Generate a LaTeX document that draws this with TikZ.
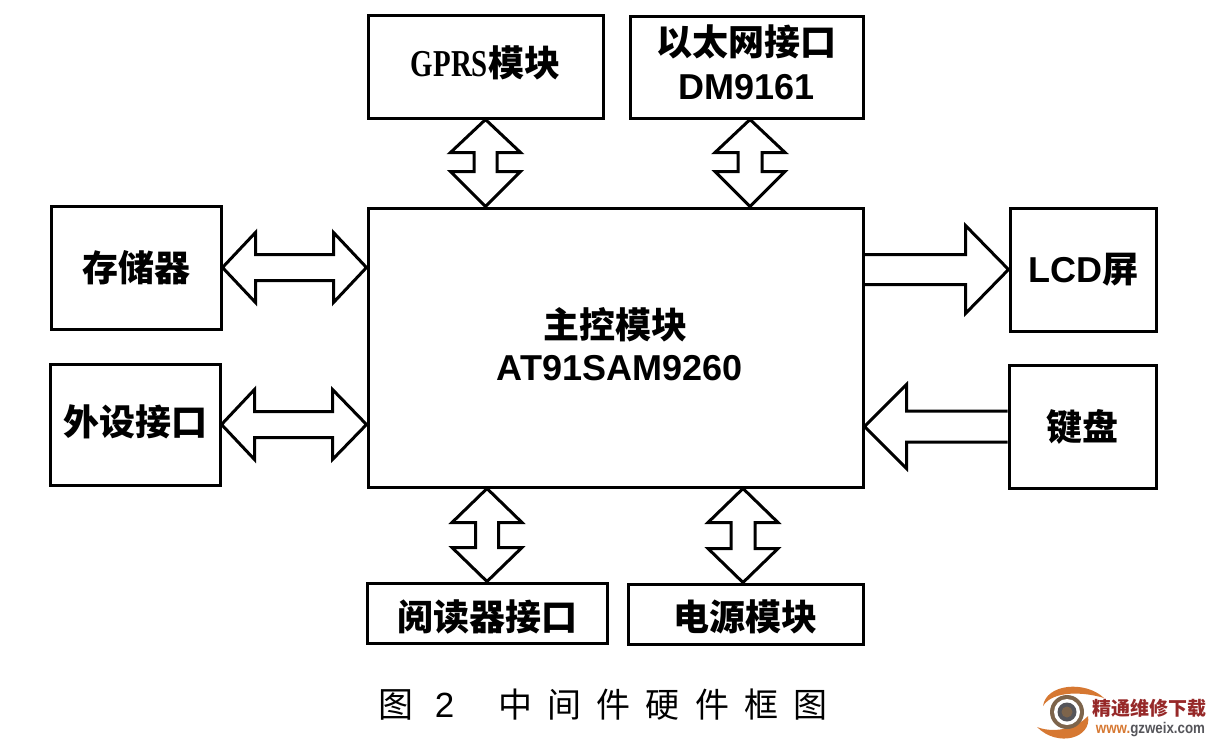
\documentclass[tikz,border=0pt]{standalone}
\usepackage{fontspec}
\usepackage{xcolor}
\usepackage{tikz}
\usetikzlibrary{calc}
\newfontfamily\cjk{Noto Sans CJK SC}
\newfontfamily\latin{Liberation Sans}
\newfontfamily\gprsfont[FakeStretch=0.76]{Liberation Serif}
\definecolor{logoorange}{RGB}{214,120,50}
\definecolor{logored}{RGB}{150,40,40}
\definecolor{logogray}{RGB}{85,85,90}
\definecolor{logobrown}{RGB}{125,100,75}
\newcommand{\nearstart}[2]{($(\tikztostart)!#1!(\tikztotarget)!#2!90:(\tikztotarget)$)}
\newcommand{\nearend}[2]{($(\tikztotarget)!#1!(\tikztostart)!#2!-90:(\tikztostart)$)}
\tikzset{
  modbox/.style={draw,line width=3pt,inner sep=0pt,align=center,font=\fontsize{36}{44}\selectfont\bfseries},
  twoway/.style={line width=3pt,miter limit=4,to path={
    -- \nearstart{\hd}{\hw} -- \nearstart{\hd}{\hs} -- \nearend{\he}{\hs} -- \nearend{\he}{\hw}
    -- (\tikztotarget)
    -- \nearend{\he}{-\hw} -- \nearend{\he}{-\hs} -- \nearstart{\hd}{-\hs} -- \nearstart{\hd}{-\hw}
    -- cycle}},
  oneway/.style={line width=3pt,miter limit=4,to path={
    ($(\tikztostart)!\hs!90:(\tikztotarget)$) -- \nearend{\he}{\hs} -- \nearend{\he}{\hw}
    -- (\tikztotarget)
    -- \nearend{\he}{-\hw} -- \nearend{\he}{-\hs} -- ($(\tikztostart)!\hs!-90:(\tikztotarget)$)}}
}
\begin{document}
\begin{tikzpicture}[x=1pt,y=-1pt]
\useasboundingbox (0,0) rectangle (1215,745);
% Module boxes
\node[modbox,minimum width=495pt,minimum height=279pt] (main) at (615.5,347.5) {\cjk 主控模块\\[-2pt]\hspace*{8pt}\latin AT91SAM9260\rule[-8pt]{0pt}{8pt}};
\node[modbox,minimum width=235pt,minimum height=103pt] (gprs) at (485.5,66.5) {\gprsfont\fontsize{38}{44}\selectfont GPRS\cjk\fontsize{36}{44}\selectfont 模块\rule[-10pt]{0pt}{10pt}};
\node[modbox,minimum width=233pt,minimum height=102pt] (eth) at (746.5,67) {\cjk 以太网接口\\\latin DM9161\rule[-9pt]{0pt}{9pt}};
\node[modbox,minimum width=170pt,minimum height=123pt] (mem) at (136,267.5) {\cjk 存储器};
\node[modbox,minimum width=170pt,minimum height=121pt] (ext) at (135,424.5) {\cjk 外设接口\rule[-8pt]{0pt}{8pt}};
\node[modbox,minimum width=146pt,minimum height=123pt] (lcd) at (1083,269.5) {\latin LCD\cjk 屏};
\node[modbox,minimum width=147pt,minimum height=123pt] (keys) at (1082.5,426.5) {\cjk 键盘};
\node[modbox,minimum width=240pt,minimum height=60pt] (reader) at (487,613) {\cjk\rule{0pt}{38pt}阅读器接口};
\node[modbox,minimum width=235pt,minimum height=60pt] (power) at (745.5,614) {\cjk\rule{0pt}{36pt}电源模块};
% Arrow ends on the box edges
\coordinate (mainmem) at (main.west |- mem.east);
\coordinate (mainext) at (main.west |- ext.east);
\coordinate (mainlcd) at (main.east |- lcd.west);
\coordinate (mainkeys) at (main.east |- keys.west);
\coordinate (maingprs) at (gprs.south |- main.north);
\coordinate (etharrow) at ($(eth.south)+(3.5,0)$);
\coordinate (maineth) at (etharrow |- main.north);
\coordinate (mainreader) at (reader.north |- main.south);
\coordinate (powerarrow) at ($(power.north)+(-2.5,0)$);
\coordinate (mainpower) at (powerarrow |- main.south);
% Two-way buses
\foreach \from/\to/\hd/\he/\hw/\hs in {
    mem.east/mainmem/33pt/33pt/35pt/13pt,
    ext.east/mainext/33pt/34pt/35pt/13pt,
    gprs.south/maingprs/33pt/35pt/35pt/11.5pt,
    etharrow/maineth/33pt/35pt/35pt/12pt,
    mainreader/reader.north/34pt/34pt/35pt/11.5pt,
    mainpower/powerarrow/34pt/34pt/35pt/12pt} {
    \draw[twoway] (\from) to (\to);
}
% One-way buses
\foreach \from/\to/\he/\hw/\hs in {
    mainlcd/lcd.west/43pt/44pt/15pt,
    keys.west/mainkeys/42pt/42pt/15.5pt} {
    \draw[oneway] (\from) to (\to);
}
% Caption
\node[inner sep=0pt] (fignum) at (416.5,705) {\cjk\fontsize{35}{40}\selectfont 图\hspace{21pt}\latin 2};
\node[inner sep=0pt] (figtext) at (663,705) {\cjk\addfontfeatures{LetterSpace=45}\fontsize{34}{40}\selectfont 中间件硬件框图};
% Watermark
\fill[logoorange] (1043,706) .. controls (1046,684) and (1085,680) .. (1104,698)
    .. controls (1085,692) and (1053,690) .. (1043,706);
\fill[logoorange] (1037,727) .. controls (1052,733) and (1075,730) .. (1088,716)
    .. controls (1092,738) and (1058,748) .. (1037,727);
\fill[logobrown] (1067,712) circle (17pt);
\fill[white] (1067,712) circle (13pt);
\fill[logogray] (1067,712) circle (9.5pt);
\fill[logobrown] (1067,712) circle (5.5pt);
\node[inner sep=0pt,text=logored] (wmname) at (1149.5,708) {\cjk\bfseries\fontsize{19}{20}\selectfont 精通维修下载};
\node[inner sep=0pt] (wmurl) at (1150.5,730) {\latin\bfseries\addfontfeatures{FakeStretch=0.86}\fontsize{15.5}{18}\selectfont\textcolor{logoorange}{www.}\textcolor{logogray}{gzweix.com}};
\end{tikzpicture}
\end{document}
